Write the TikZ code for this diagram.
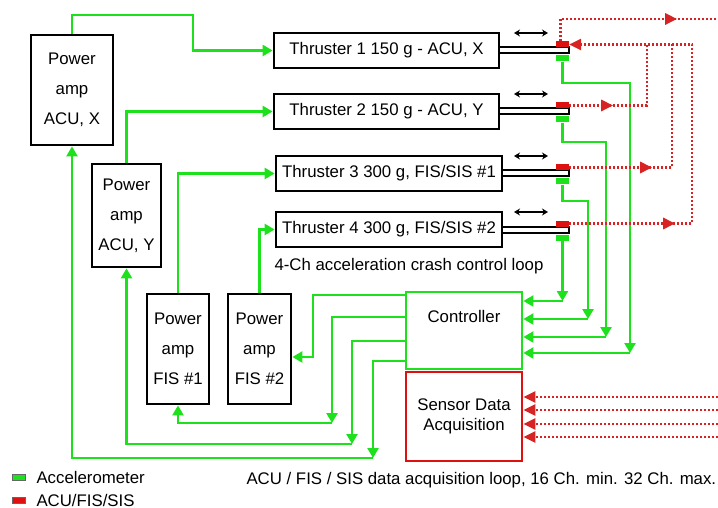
\documentclass[tikz,border=0pt]{standalone}
\usepackage{fontspec}
\setmainfont{Liberation Sans}
\usetikzlibrary{arrows.meta,decorations.markings}

\definecolor{accgreen}{RGB}{30,225,30}
\definecolor{sisred}{RGB}{222,16,16}
\definecolor{dotred}{RGB}{215,35,35}

\tikzset{
	ampbox/.style={draw, line width=2.8pt, inner sep=0pt, align=center, font=\fontsize{16.8}{30}\selectfont},
	thbox/.style={draw, line width=2.8pt, minimum width=225pt, minimum height=35pt, inner sep=0pt},
	gline/.style={accgreen, line width=2.7pt, >={Triangle[length=10pt,width=11pt]}},
	rline/.style={dotred, line width=2.6pt, dash pattern=on 2.2pt off 1.8pt, >={Triangle[length=12pt,width=11pt]}},
	rmid/.style={postaction={decorate, decoration={markings, mark=at position #1 with {\arrow{Triangle[length=12pt,width=11pt]}}}}},
	rod/.style={line width=2pt},
	motion/.style={line width=1.5pt, {Stealth[length=6pt,width=7pt]}-{Stealth[length=6pt,width=7pt]}},
	redsens/.style={fill=sisred, minimum width=13pt, minimum height=6pt, inner sep=0pt},
	greensens/.style={fill=accgreen, minimum width=13pt, minimum height=6pt, inner sep=0pt},
}

\begin{document}
\begin{tikzpicture}[x=1pt, y=-1pt, every node/.style={font=\fontsize{16.8}{20}\selectfont}]
	\useasboundingbox (0,0) rectangle (718,508);
	% power amplifiers
	\node[ampbox, minimum width=82pt, minimum height=110pt] (ampX) at (72,90) {Power\\amp\\ACU, X};
	\node[ampbox, minimum width=69pt, minimum height=103pt] (ampY) at (126.5,215.5) {Power\\amp\\ACU, Y};
	\node[ampbox, minimum width=62pt, minimum height=110pt] (fis1) at (178,349) {Power\\amp\\FIS \#1};
	\node[ampbox, minimum width=63pt, minimum height=110pt] (fis2) at (259.5,349) {Power\\amp\\FIS \#2};
	% thrusters
	\node[thbox] (t1) at (386.5,50.5) {Thruster 1 150 g - ACU, X};
	\node[thbox] (t2) at (386.5,111.5) {Thruster 2 150 g - ACU, Y};
	\node[thbox, minimum width=226pt] (t3) at (389,173.5) {Thruster 3 300 g, FIS/SIS \#1};
	\node[thbox, minimum width=226pt] (t4) at (389,229.5) {Thruster 4 300 g, FIS/SIS \#2};
	\foreach \t/\c in {1/50.5, 2/111.5, 3/173.5, 4/229.5} {
		\draw[rod] (t\t.east |- 0,\c-3) -- (569,\c-3) -- (569,\c+3) -- (t\t.east |- 0,\c+3);
		\draw[motion] (514,\c-17.5) -- (548,\c-17.5);
		\node[redsens] (r\t) at (562.5,\c-6) {};
		\node[greensens] (g\t) at (562.5,\c+8) {};
	}
	% controller and acquisition
	\node[draw=accgreen, line width=2.8pt, minimum width=116pt, minimum height=77pt, inner sep=0pt] (ctrl) at (464,330.5) {};
	\node (ctrltxt) at (464,316) {Controller};
	\node[draw=sisred, line width=2.8pt, minimum width=116pt, minimum height=89pt, inner sep=0pt, align=center] (sda) at (464,416.5) {Sensor Data\\Acquisition};

	% drive lines
	\draw[gline,->] (ampX.north) |- (193,15) |- (t1.west);
	\draw[gline,->] (ampY.north) |- (t2.west);
	\draw[gline,->] (fis1.north) |- (t3.west);
	\draw[gline,->] (fis2.north) |- (t4.west);

	% accelerometers to controller
	\coordinate (k1) at (630,353);
	\coordinate (k2) at (606,337);
	\coordinate (k3) at (588,319);
	\coordinate (k4) at (562.5,301);
	\draw[gline,->] (g1.south) |- (630,83) -- (k1);
	\draw[gline,->] (g2.south) |- (606,142) -- (k2);
	\draw[gline,->] (g3.south) |- (588,201) -- (k3);
	\draw[gline,->] (g4.south) -- (k4);
	\foreach \i in {1,...,4}
		\draw[gline,->] (k\i) -- (ctrl.east |- k\i);

	% controller to amplifiers
	\coordinate (b1) at (332,423);
	\coordinate (b2) at (352,444);
	\coordinate (b3) at (373,458);
	\draw[gline,->] (ctrl.west |- 0,295) -| (313,357) -- (fis2.east |- 0,357);
	\draw[gline,->] (ctrl.west |- 0,317) -| (b1);
	\draw[gline,->] (ctrl.west |- 0,341) -| (b2);
	\draw[gline,->] (ctrl.west |- 0,361) -| (b3);
	\draw[gline,->] (b1) -| (fis1.south);
	\draw[gline,->] (b2) -| (ampY.south);
	\draw[gline,->] (b3) -| (ampX.south);

	% ACU/FIS/SIS loop
	\coordinate (redout) at (718,19);
	\coordinate (fb2) at (r1.east -| 647,0);
	\coordinate (fb3) at (r1.east -| 672,0);
	\coordinate (fb4) at (r1.east -| 692,0);
	\draw[rline, rmid=139pt] ([xshift=-2pt]r1.north) |- (redout);
	\draw[rline, rmid=44pt] (r2.east) -| (fb2);
	\draw[rline, rmid=83pt] (r3.east) -| (fb3);
	\draw[rline, rmid=106pt, ->] (r4.east) -| (fb4) -- (r1.east);
	\foreach \y [count=\n] in {397,410,424,437} {
		\coordinate (in\n) at (718,\y);
		\draw[rline,->] (in\n) -- (sda.east |- in\n);
	}

	% labels and legend
	\node[anchor=west] (ctlloop) at (271,266) {4-Ch acceleration crash control loop};
	\node[anchor=west] (acqloop) at (243,480) {ACU / FIS / SIS data acquisition loop, 16 Ch. min. 32 Ch. max.};
	\node[greensens, draw=black!60, line width=0.4pt] (leggreen) at (18.5,477) {};
	\node[redsens, draw=black!60, line width=0.4pt] (legred) at (18.5,500) {};
	\node[anchor=west] (legacc) at (33,477) {Accelerometer};
	\node[anchor=west] (legsis) at (33,500) {ACU/FIS/SIS};
\end{tikzpicture}
\end{document}
